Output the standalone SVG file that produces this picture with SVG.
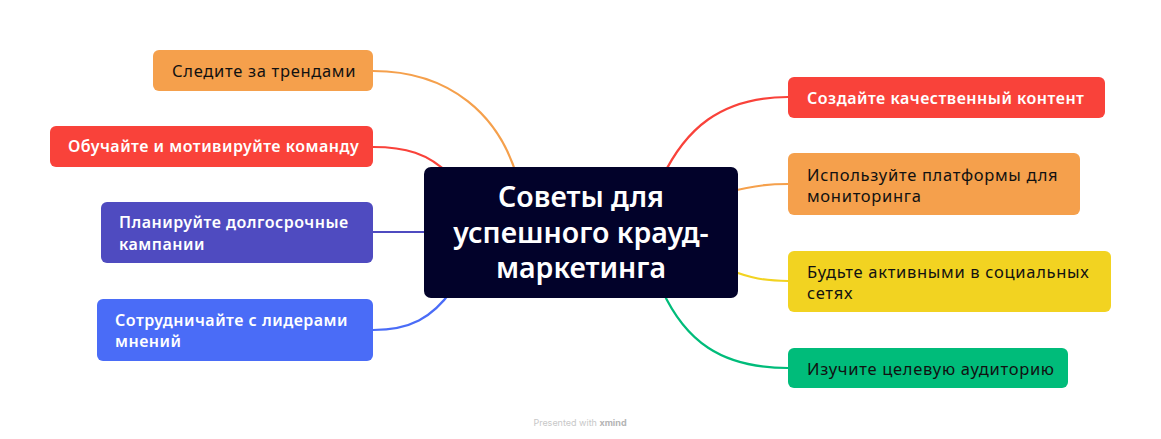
<svg xmlns="http://www.w3.org/2000/svg" width="1161" height="439" viewBox="0 0 1161 439">
<style>
.t{font-family:"Noto Sans","Liberation Sans",sans-serif}
.w{fill:#ffffff;font-weight:600;font-size:16px;letter-spacing:0.5px}
.d{fill:#111111;font-weight:400;font-size:16.5px;letter-spacing:0.7px}
.c{font-family:"Noto Sans","Liberation Sans",sans-serif;font-size:28.5px;font-weight:600;fill:#ffffff;text-anchor:middle}
.ln{fill:none;stroke-width:2.2;stroke-linecap:round}
</style>
<rect width="1161" height="439" fill="#ffffff"/>
<g id="connectors">
<path class="ln" stroke="#F5A04C" d="M373,71 C450,71 500,115 518,180"/>
<path class="ln" stroke="#F9423A" d="M373,147 C405,147 428,153 450,175"/>
<path class="ln" stroke="#4F4BC0" d="M373,232 L430,232"/>
<path class="ln" stroke="#4A6CF7" d="M373,330 C410,330 432,318 452,290"/>
<path class="ln" stroke="#F9423A" d="M788,97 C720,97 685,130 662,178"/>
<path class="ln" stroke="#F5A04C" d="M788,184 C765,184 750,186 730,192"/>
<path class="ln" stroke="#F2D321" d="M788,281 C765,281 750,278 730,270"/>
<path class="ln" stroke="#00BC7A" d="M788,368 C720,368 685,340 662,290"/>
</g>
<g id="center">
<rect x="424" y="167" width="314" height="131" rx="7" fill="#02022A"/>
<text class="c" x="581" y="207">Советы для</text>
<text class="c" x="581" y="243">успешного крауд-</text>
<text class="c" x="581" y="278">маркетинга</text>
</g>
<g id="n-trends">
<rect x="153" y="50" width="220" height="41" rx="6" fill="#F5A04C"/>
<text class="t d" x="172" y="77">Следите за трендами</text>
</g>
<g id="n-team">
<rect x="50" y="126" width="323" height="41" rx="6" fill="#F9423A"/>
<text class="t w" x="68" y="152">Обучайте и мотивируйте команду</text>
</g>
<g id="n-plan">
<rect x="101" y="202" width="272" height="61" rx="6" fill="#4F4BC0"/>
<text class="t w" x="119" y="228">Планируйте долгосрочные</text>
<text class="t w" x="119" y="250">кампании</text>
</g>
<g id="n-leaders">
<rect x="97" y="299" width="276" height="62" rx="6" fill="#4A6CF7"/>
<text class="t w" x="115" y="326">Сотрудничайте с лидерами</text>
<text class="t w" x="115" y="347">мнений</text>
</g>
<g id="n-content">
<rect x="788" y="77" width="317" height="41" rx="6" fill="#F9423A"/>
<text class="t w" x="807" y="104">Создайте качественный контент</text>
</g>
<g id="n-platforms">
<rect x="788" y="153" width="292" height="62" rx="6" fill="#F5A04C"/>
<text class="t d" x="807" y="181">Используйте платформы для</text>
<text class="t d" x="807" y="202">мониторинга</text>
</g>
<g id="n-social">
<rect x="788" y="251" width="323" height="61" rx="6" fill="#F2D321"/>
<text class="t d" x="807" y="278">Будьте активными в социальных</text>
<text class="t d" x="807" y="299">сетях</text>
</g>
<g id="n-audience">
<rect x="788" y="348" width="280" height="40" rx="6" fill="#00BC7A"/>
<text class="t d" x="807" y="375">Изучите целевую аудиторию</text>
</g>
<text x="580" y="426" font-family="Inter,'Liberation Sans',sans-serif" font-size="9" fill="#C8C8C8" text-anchor="middle">Presented with <tspan font-weight="700" fill="#B4B4B4">xmind</tspan></text>
</svg>
